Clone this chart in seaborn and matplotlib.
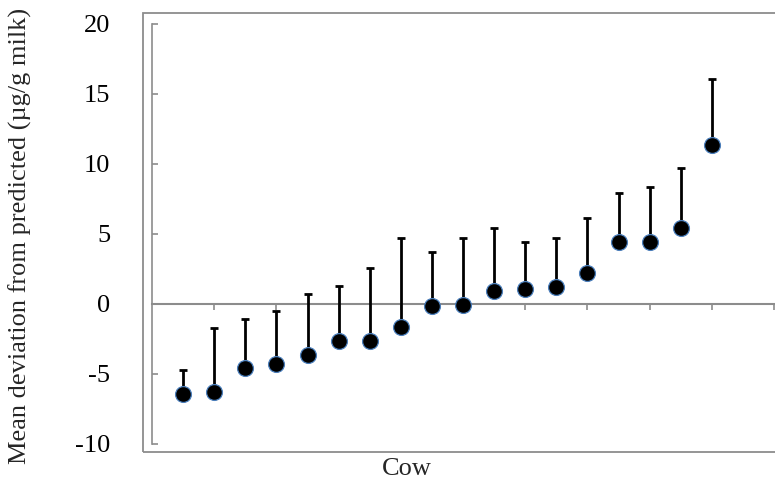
import numpy as np
import pandas as pd
import matplotlib
matplotlib.use("Agg")
import matplotlib.pyplot as plt
import seaborn as sns
from matplotlib.patches import Rectangle

# values (ug/g milk)
cows = list(range(1, 19))
mean_dev = [-6.45, -6.3, -4.6, -4.25, -3.65, -2.65, -2.65, -1.65, -0.15,
            -0.1, 0.95, 1.1, 1.2, 2.25, 4.45, 4.45, 5.45, 11.35]
upper_end = [-4.7, -1.7, -1.1, -0.5, 0.7, 1.3, 2.6, 4.7, 3.75,
             4.75, 5.45, 4.4, 4.7, 6.15, 7.9, 8.35, 9.75, 16.05]

df = pd.DataFrame({"cow": cows, "mean": mean_dev, "upper": upper_end})
df["err"] = df["upper"] - df["mean"]

sns.set_theme(style="white")
plt.rcParams["font.family"] = ["Liberation Serif", "DejaVu Serif"]
plt.rcParams["axes.unicode_minus"] = False

grey = "#8c8c8c"
fs = 19

fig = plt.figure(figsize=(7.75, 4.79), dpi=100)
ax = fig.add_axes([152 / 775, 1 - 444 / 479, (774 - 152) / 775, (444 - 24) / 479])

# only upper error bar is drawn
ax.errorbar(df["cow"], df["mean"], yerr=[np.zeros(len(df)), df["err"]],
            fmt="none", ecolor="black", elinewidth=2, capsize=2.7, capthick=2, zorder=2)
sns.scatterplot(data=df, x="cow", y="mean", ax=ax, s=130, color="black",
                edgecolor="#4a7ebb", linewidth=0.9, zorder=3, legend=False)

ax.set_xlim(0, 20)
ax.set_ylim(-10, 20)
ax.set_yticks(range(-10, 21, 5))
ax.set_xticks(range(2, 21, 2))
ax.set_xticklabels([])

for s in ["top", "right"]:
    ax.spines[s].set_visible(False)
ax.spines["left"].set_color(grey)
ax.spines["left"].set_linewidth(1.2)
ax.spines["bottom"].set_position(("data", 0))
ax.spines["bottom"].set_color(grey)
ax.spines["bottom"].set_linewidth(1.5)
ax.spines["bottom"].set_zorder(1)

ax.tick_params(axis="y", direction="in", length=4, width=1.2, color=grey, left=True,
               labelsize=fs, pad=30, labelcolor="black")
ax.tick_params(axis="x", direction="out", length=4, width=1.2, color=grey, bottom=True)
ax.set_xlabel("")
ax.set_ylabel("")

fig.text(407 / 775, 1 - 469 / 479, "Cow", ha="center", va="center", fontsize=fs)
fig.text(20 / 775, 1 - 236 / 479, "Mean deviation from predicted (µg/g milk)",
         rotation=90, ha="center", va="center", fontsize=fs)

# outer chart-area frame
fig.patches.append(Rectangle((142.5 / 775, 1 - 451.5 / 479), 0.9, (451.5 - 12.5) / 479,
                             transform=fig.transFigure, fill=False,
                             edgecolor=grey, linewidth=1.3))

fig.savefig("out.png", dpi=100)
